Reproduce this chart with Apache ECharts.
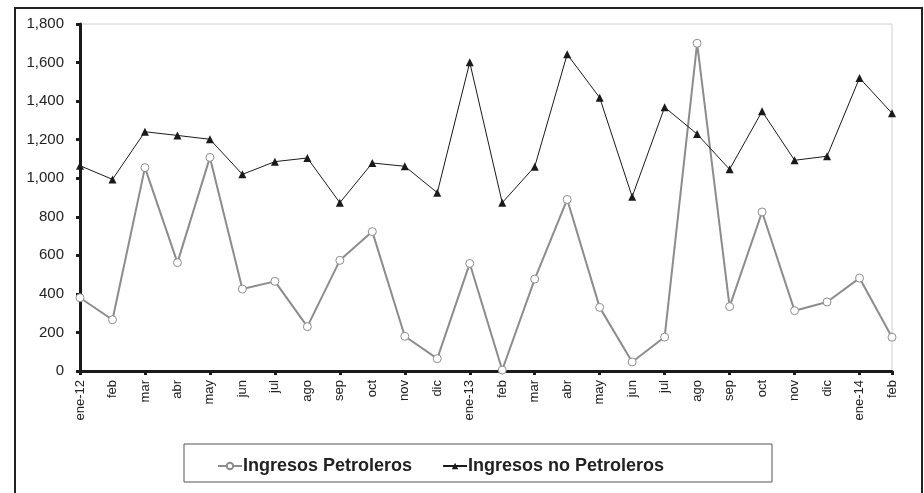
<!DOCTYPE html>
<html>
<head>
<meta charset="utf-8">
<script src="https://cdn.jsdelivr.net/npm/echarts@6/dist/echarts.min.js"></script>
<style>
  html, body { margin: 0; padding: 0; background: #fff; }
  #chart { width: 924px; height: 493px; }
</style>
</head>
<body>
<div id="chart"></div>
<script>
const months = ['ene-12', 'feb', 'mar', 'abr', 'may', 'jun', 'jul', 'ago', 'sep', 'oct', 'nov', 'dic',
  'ene-13', 'feb', 'mar', 'abr', 'may', 'jun', 'jul', 'ago', 'sep', 'oct', 'nov', 'dic',
  'ene-14', 'feb']

const petroleros = [380, 266, 1055, 562, 1108, 425, 465, 230, 574, 723, 180, 64,
  558, 5, 477, 890, 330, 47, 176, 1700, 334, 825, 313, 358, 482, 175]

const noPetroleros = [1065, 994, 1241, 1222, 1202, 1020, 1086, 1105, 873, 1079, 1062, 925,
  1601, 873, 1060, 1643, 1418, 904, 1368, 1229, 1046, 1347, 1093, 1114, 1520, 1337]

const yMax = 1800
const yStep = 200

const font = 'Liberation Sans, Arial, sans-serif'
const chart = echarts.init(document.getElementById('chart'))

chart.setOption({
  animation: false,
  textStyle: { fontFamily: font },
  graphic: [
    {
      // outer frame, bottom edge falls outside the picture
      type: 'rect',
      shape: { x: 15, y: 8, width: 907, height: 500 },
      style: { fill: 'none', stroke: '#222', lineWidth: 2 },
      silent: true
    },
    {
      // legend box
      type: 'rect',
      shape: { x: 184, y: 444, width: 588, height: 38 },
      style: { fill: 'none', stroke: '#555', lineWidth: 1 },
      silent: true
    }
  ],
  legend: {
    left: 212,
    top: 452,
    itemGap: 30,
    itemWidth: 24,
    itemHeight: 8,
    textStyle: {
      fontSize: 18,
      fontWeight: 'bold',
      color: '#222',
      fontFamily: font,
      padding: [0, 0, 0, -4]
    },
    data: ['Ingresos Petroleros', 'Ingresos no Petroleros']
  },
  grid: {
    left: 80,
    right: 32,
    top: 24,
    bottom: 122,
    show: true,
    borderColor: '#d0d0d0',
    borderWidth: 1
  },
  xAxis: {
    type: 'category',
    boundaryGap: false,
    data: months,
    axisLine: { lineStyle: { color: '#1a1a1a', width: 3 } },
    axisTick: { show: true, interval: 1, length: 4, lineStyle: { color: '#1a1a1a', width: 3 } },
    axisLabel: { rotate: 90, interval: 0, margin: 9, fontSize: 13, color: '#222', fontFamily: font },
    splitLine: { show: false }
  },
  yAxis: {
    type: 'value',
    min: 0,
    max: yMax,
    interval: yStep,
    axisLine: { show: true, lineStyle: { color: '#1a1a1a', width: 3 } },
    axisTick: { show: true, length: 4, lineStyle: { color: '#1a1a1a', width: 3 } },
    axisLabel: {
      margin: 16,
      fontSize: 15,
      color: '#222',
      fontFamily: font,
      formatter: v => v.toLocaleString('en-US')
    },
    splitLine: { show: false }
  },
  series: [
    {
      name: 'Ingresos Petroleros',
      type: 'line',
      data: petroleros,
      symbol: 'circle',
      symbolSize: 8,
      lineStyle: { color: '#8c8c8c', width: 2 },
      itemStyle: { color: '#fff', borderColor: '#8c8c8c', borderWidth: 1 },
      z: 3
    },
    {
      name: 'Ingresos no Petroleros',
      type: 'line',
      data: noPetroleros,
      symbol: 'triangle',
      symbolSize: 8,
      lineStyle: { color: '#1a1a1a', width: 1 },
      itemStyle: { color: '#1a1a1a' },
      z: 4
    }
  ]
})
</script>
</body>
</html>
